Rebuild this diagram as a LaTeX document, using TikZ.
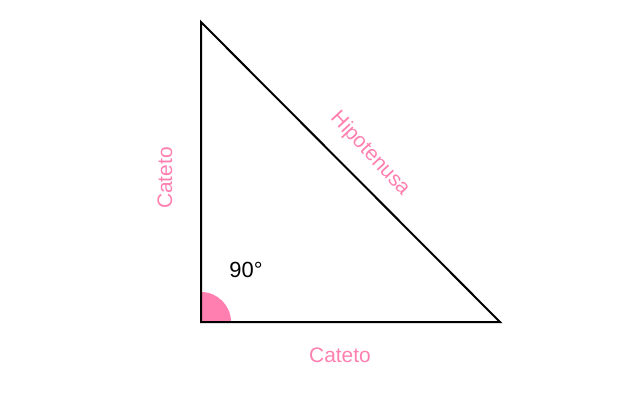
\documentclass[tikz,border=0pt]{standalone}
\usepackage{fontspec}
\setmainfont{Liberation Sans}
\definecolor{pinkc}{RGB}{255,128,176}
\begin{document}
\begin{tikzpicture}[x=1bp,y=-1bp,
  lbl/.style={text=pinkc,font=\fontsize{21}{24}\selectfont,inner sep=0pt},
  edge/.style={draw=black,line width=2bp,line join=miter}]
\useasboundingbox (0,0) rectangle (640,400);
\coordinate (A) at (201,22);
\coordinate (B) at (201,322);
\coordinate (C) at (500,322);
\fill[pinkc] (B) -- ++(30,0) arc[start angle=0,end angle=-90,radius=30] -- cycle;
\draw[edge] (A) -- (B) -- (C) -- cycle;
\node[lbl] (cb) at (340,355) {Cateto};
\node[lbl,rotate=90] (cl) at (165,178) {Cateto};
\node[lbl,rotate=-47] (hy) at (370,154) {Hipotenusa};
\node[inner sep=0pt,font=\fontsize{22}{24}\selectfont] (ang) at (246,270) {90°};
\end{tikzpicture}
\end{document}
